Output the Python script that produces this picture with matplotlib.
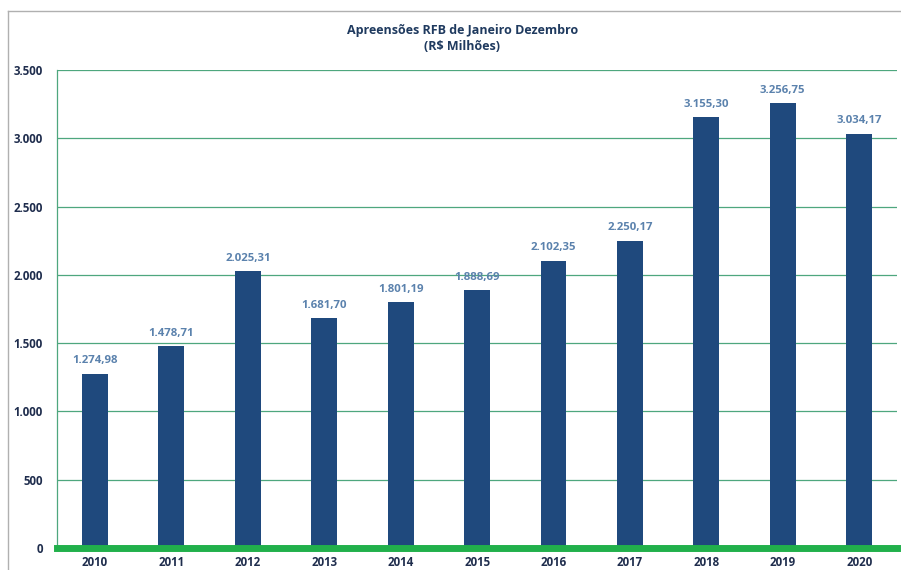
import matplotlib.pyplot as plt
from matplotlib.lines import Line2D

years = ["2010", "2011", "2012", "2013", "2014", "2015", "2016", "2017", "2018", "2019", "2020"]
values = [1274.98, 1478.71, 2025.31, 1681.70, 1801.19, 1888.69, 2102.35, 2250.17, 3155.30, 3256.75, 3034.17]
y_ticks = [0, 500, 1000, 1500, 2000, 2500, 3000, 3500]


def br_fmt(v, decimals=2):
    s = f"{v:,.{decimals}f}"
    return s.replace(",", "X").replace(".", ",").replace("X", ".")


plt.rcParams['font.family'] = ['Open Sans', 'DejaVu Sans']

fig = plt.figure(figsize=(9.01, 5.70), dpi=100)
ax = fig.add_axes([0.063, 0.0386, 0.933, 0.8384])

x = range(len(years))
ax.bar(x, values, width=0.34, color="#1f497d", zorder=3)

for xi, v in zip(x, values):
    ax.text(xi, v + 55, br_fmt(v), ha="center", va="bottom",
            fontsize=8.2, fontweight="bold", color="#5b82ad")

ax.set_xlim(-0.5, len(years) - 0.5)
ax.set_ylim(0, 3500)
ax.set_yticks(y_ticks)
ax.set_yticklabels([br_fmt(t, 0) for t in y_ticks])
ax.set_xticks(list(x))
ax.set_xticklabels(years)
ax.tick_params(axis="both", length=0, labelsize=8.3, labelcolor="#1f2d4d")
for lbl in ax.get_xticklabels() + ax.get_yticklabels():
    lbl.set_fontweight("bold")
ax.tick_params(axis="y", pad=10)
ax.tick_params(axis="x", pad=6)

ax.grid(axis="y", color="#4ea77e", linewidth=0.9, zorder=0)
for side in ["top", "right", "bottom"]:
    ax.spines[side].set_visible(False)
ax.spines["left"].set_color("#4ea77e")
ax.spines["left"].set_linewidth(0.9)
ax.axhline(0, color="#21b04b", linewidth=5, zorder=4, clip_on=False)

fig.text(0.513, 0.947, "Apreensões RFB de Janeiro Dezembro", ha="center", va="center",
         fontsize=9, fontweight="bold", color="#1f3a5f")
fig.text(0.513, 0.919, "(R$ Milhões)", ha="center", va="center",
         fontsize=9, fontweight="bold", color="#1f3a5f")

# frame lines around the chart
fig.add_artist(Line2D([0.009, 0.009], [0, 0.981], color="#b0b0b0", linewidth=1))
fig.add_artist(Line2D([0.009, 1], [0.981, 0.981], color="#b0b0b0", linewidth=1))

fig.savefig("out.png", dpi=100)
